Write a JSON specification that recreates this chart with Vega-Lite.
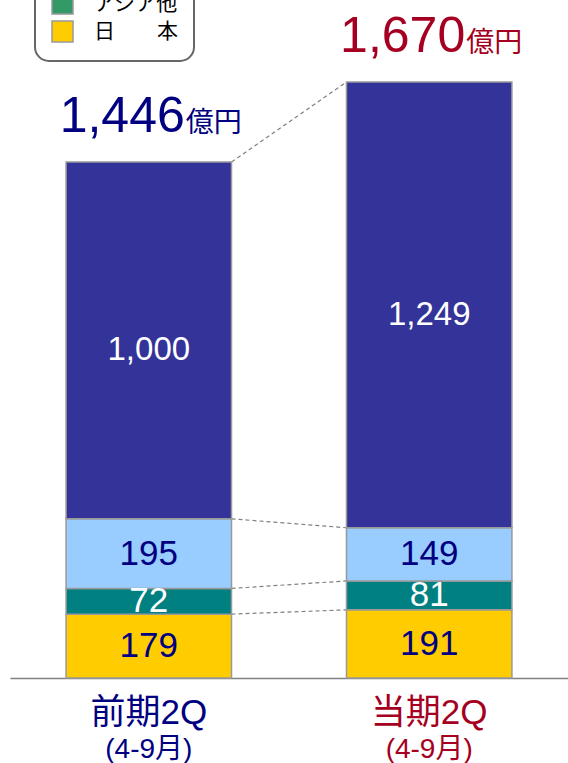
{
  "$schema": "https://vega.github.io/schema/vega-lite/v6.json",
  "width": 558,
  "height": 678,
  "autosize": {"type": "none"},
  "padding": {"left": 10, "top": 0, "right": 0, "bottom": 85},
  "config": {
    "view": {"stroke": null},
    "font": "Liberation Sans, Noto Sans CJK JP",
    "axisX": {"labels": false, "ticks": false, "domainColor": "#808080", "domainWidth": 1.5, "grid": false}
  },
  "datasets": {
    "sales": [
      {"period": "前期2Q", "region": "日　　本", "value": 179, "rank": 1},
      {"period": "前期2Q", "region": "アジア他", "value": 72, "rank": 2},
      {"period": "前期2Q", "region": "欧　州", "value": 195, "rank": 3},
      {"period": "前期2Q", "region": "米　州", "value": 1000, "rank": 4},
      {"period": "当期2Q", "region": "日　　本", "value": 191, "rank": 1},
      {"period": "当期2Q", "region": "アジア他", "value": 81, "rank": 2},
      {"period": "当期2Q", "region": "欧　州", "value": 149, "rank": 3},
      {"period": "当期2Q", "region": "米　州", "value": 1249, "rank": 4}
    ],
    "links": [
      {"from": "前期2Q", "to": "当期2Q", "left": 1446, "right": 1670},
      {"from": "前期2Q", "to": "当期2Q", "left": 446, "right": 421},
      {"from": "前期2Q", "to": "当期2Q", "left": 251, "right": 272},
      {"from": "前期2Q", "to": "当期2Q", "left": 179, "right": 191}
    ]
  },
  "layer": [
    {
      "data": {"name": "links"},
      "mark": {"type": "rule", "stroke": "#808080", "strokeWidth": 1.2, "strokeDash": [4, 3]},
      "encoding": {
        "x": {"field": "from", "type": "nominal", "bandPosition": 1, "title": null, "scale": {"domain": ["前期2Q", "当期2Q"], "paddingInner": 0.41, "paddingOuter": 0.2}},
        "x2": {"field": "to", "bandPosition": 0},
        "y": {"field": "left", "type": "quantitative", "scale": {"domain": [0, 1900], "nice": false}, "axis": null},
        "y2": {"field": "right"}
      }
    },
    {
      "data": {"name": "sales"},
      "mark": {"type": "bar", "stroke": "#999999", "strokeWidth": 1.5},
      "encoding": {
        "x": {"field": "period", "type": "nominal", "title": null},
        "y": {"field": "value", "type": "quantitative", "stack": "zero", "axis": null},
        "order": {"field": "rank", "type": "quantitative"},
        "fill": {
          "field": "region",
          "type": "nominal",
          "scale": {"domain": ["日　　本", "アジア他", "欧　州", "米　州"], "range": ["#FFCC00", "#008080", "#99CCFF", "#333399"]},
          "legend": null
        }
      }
    },
    {
      "data": {"name": "sales"},
      "mark": {"type": "point", "filled": true, "size": 0, "opacity": 0},
      "encoding": {
        "x": {"field": "period", "type": "nominal", "title": null},
        "y": {"datum": 0, "type": "quantitative", "axis": null},
        "color": {
          "field": "region",
          "type": "nominal",
          "scale": {"domain": ["米　州", "欧　州", "アジア他", "日　　本"], "range": ["#333399", "#99CCFF", "#339966", "#FFCC00"]},
          "legend": {
            "orient": "none",
            "legendX": 25,
            "legendY": -80,
            "title": null,
            "symbolType": "square",
            "symbolSize": 441,
            "symbolStrokeColor": "#999999",
            "symbolStrokeWidth": 1.5,
            "symbolOpacity": 1,
            "labelFont": "Noto Sans CJK JP",
            "labelFontSize": 21,
            "labelColor": "#000000",
            "labelOffset": 20,
            "rowPadding": 1,
            "padding": 16,
            "strokeColor": "#666666",
            "fillColor": "#ffffff",
            "cornerRadius": 14,
            "encode": {
              "legend": {"update": {"strokeWidth": {"value": 2}}}
            }
          }
        }
      }
    },
    {
      "data": {"name": "sales"},
      "mark": {"type": "text", "fontSize": 35, "baseline": "middle", "align": "center"},
      "encoding": {
        "x": {"field": "period", "type": "nominal", "title": null},
        "y": {"field": "value", "type": "quantitative", "stack": "zero", "bandPosition": 0.5, "axis": null},
        "order": {"field": "rank", "type": "quantitative"},
        "detail": {"field": "region", "type": "nominal"},
        "text": {"condition": {"test": "datum.region === '米　州'", "value": ""}, "field": "value", "type": "quantitative", "format": ","},
        "color": {"condition": {"test": "datum.region === 'アジア他'", "value": "#ffffff"}, "value": "#000080"}
      }
    },
    {
      "data": {"name": "sales"},
      "mark": {"type": "text", "fontSize": 33, "baseline": "middle", "align": "center", "dy": 10, "color": "#ffffff"},
      "encoding": {
        "x": {"field": "period", "type": "nominal", "title": null},
        "y": {"field": "value", "type": "quantitative", "stack": "zero", "bandPosition": 0.5, "axis": null},
        "order": {"field": "rank", "type": "quantitative"},
        "detail": {"field": "region", "type": "nominal"},
        "text": {"condition": {"test": "datum.region !== '米　州'", "value": ""}, "field": "value", "type": "quantitative", "format": ","}
      }
    },
    {
      "data": {"name": "sales"},
      "mark": {"type": "text", "fontSize": 50, "baseline": "alphabetic", "align": "right", "dx": 36, "dy": -30},
      "encoding": {
        "x": {"field": "period", "type": "nominal", "title": null},
        "y": {"aggregate": "sum", "field": "value", "type": "quantitative", "axis": null},
        "text": {"aggregate": "sum", "field": "value", "type": "quantitative", "format": ","},
        "color": {"condition": {"test": "datum.period === '前期2Q'", "value": "#000080"}, "value": "#A50021"}
      }
    },
    {
      "data": {"name": "sales"},
      "mark": {"type": "text", "fontSize": 28, "baseline": "alphabetic", "align": "left", "dx": 37, "dy": -30, "font": "Noto Sans CJK JP"},
      "encoding": {
        "x": {"field": "period", "type": "nominal", "title": null},
        "y": {"aggregate": "sum", "field": "value", "type": "quantitative", "axis": null},
        "text": {"value": "億円"},
        "color": {"condition": {"test": "datum.period === '前期2Q'", "value": "#000080"}, "value": "#A50021"}
      }
    },
    {
      "data": {"name": "sales"},
      "transform": [{"aggregate": [{"op": "count", "as": "n"}], "groupby": ["period"]}],
      "mark": {"type": "text", "fontSize": 35, "baseline": "alphabetic", "align": "center", "dy": 46},
      "encoding": {
        "x": {"field": "period", "type": "nominal", "title": null},
        "y": {"datum": 0, "type": "quantitative", "axis": null},
        "text": {"field": "period", "type": "nominal"},
        "color": {"condition": {"test": "datum.period === '前期2Q'", "value": "#000080"}, "value": "#A50021"}
      }
    },
    {
      "data": {"name": "sales"},
      "transform": [{"aggregate": [{"op": "count", "as": "n"}], "groupby": ["period"]}],
      "mark": {"type": "text", "fontSize": 28, "baseline": "alphabetic", "align": "center", "dy": 80},
      "encoding": {
        "x": {"field": "period", "type": "nominal", "title": null},
        "y": {"datum": 0, "type": "quantitative", "axis": null},
        "text": {"value": "(4-9月)"},
        "color": {"condition": {"test": "datum.period === '前期2Q'", "value": "#000080"}, "value": "#A50021"}
      }
    }
  ]
}
